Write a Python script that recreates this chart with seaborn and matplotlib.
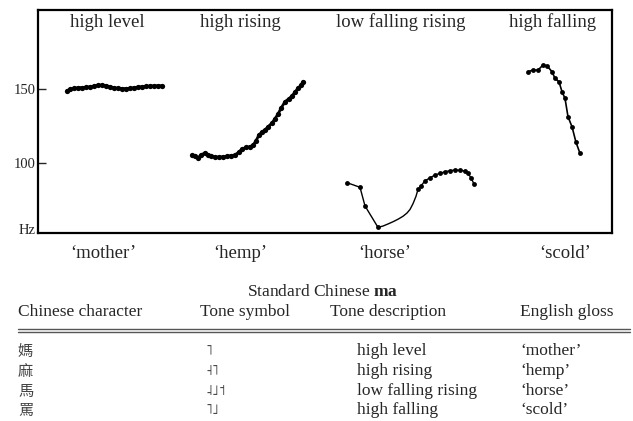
#!/usr/bin/env python3

import matplotlib

matplotlib.use("Agg")
import matplotlib.pyplot as plt
import pandas as pd
import seaborn as sns

# pitch tracks (time in arbitrary units, F0 in Hz)
high_level_t = [67, 70, 74, 78, 82, 86, 90, 94, 98, 102, 106, 110, 114, 118, 122,
                126, 130, 134, 138, 142, 146, 150, 154, 158, 162]
high_level_hz = [148.9, 149.8, 150.5, 150.8, 151.0, 151.2, 151.5, 152.0, 152.5, 152.7,
                 152.3, 151.5, 150.8, 150.5, 150.3, 150.3, 150.5, 150.9, 151.3, 151.6,
                 151.8, 152.0, 152.1, 152.2, 152.2]

high_rising_t = [192, 195, 198, 201, 205, 208, 211, 215, 219, 223, 227, 231, 235, 239,
                 242, 246, 250, 253, 256, 259, 262, 265, 268, 272, 275, 278, 281, 285,
                 289, 292, 295, 298, 301, 303]
high_rising_hz = [105.4, 104.5, 103.4, 105.5, 106.8, 105.5, 104.8, 104.0, 104.0, 104.2,
                  104.5, 105.0, 105.4, 107.5, 109.5, 110.5, 111.0, 112.0, 115.0, 119.0,
                  121.0, 122.3, 124.5, 127.0, 130.0, 133.0, 137.0, 141.4, 143.5, 145.3,
                  148.0, 150.5, 152.5, 155.0]

low_falling_rising_t = [347, 360, 365, 378, 383, 388, 393, 398, 403, 407, 410, 413, 416,
                        418, 421, 425, 430, 435, 440, 445, 450, 455, 460, 465, 468, 471, 474]
low_falling_rising_hz = [86.7, 83.6, 71.0, 56.5, 57.4, 58.8, 60.3, 62.0, 64.0, 66.2, 68.6,
                         72.5, 77.5, 82.2, 84.5, 88.0, 90.0, 91.9, 93.0, 94.1, 94.8, 95.3,
                         95.0, 94.6, 93.0, 90.0, 85.8]
# samples 4..12 are the interpolated stretch drawn without markers
low_falling_rising_marked = [0, 1, 2, 3, 13, 14, 15, 16, 17, 18, 19, 20, 21, 22, 23, 24,
                             25, 26]

high_falling_t = [528, 533, 538, 543, 547, 552, 555, 559, 562, 565, 568, 572, 576, 580]
high_falling_hz = [161.7, 162.8, 162.8, 166.2, 165.7, 161.7, 157.2, 154.9, 148.2, 143.7,
                   131.3, 124.5, 114.0, 106.5]

tone_names = ["high level", "high rising", "low falling rising", "high falling"]
glosses = ["\u2018mother\u2019", "\u2018hemp\u2019", "\u2018horse\u2019", "\u2018scold\u2019"]
characters = ["媽", "麻", "馬", "罵"]
tone_symbols = ["\u02e5", "\u02e7\u02e5", "\u02e8\u02e9\u02e6", "\u02e5\u02e9"]
header = ["Chinese character", "Tone symbol", "Tone description", "English gloss"]
y_ticks = [100, 150]

sns.set_theme(style="white")
plt.rcParams["font.family"] = ["Liberation Serif", "DejaVu Serif"]
plt.rcParams["mathtext.fontset"] = "custom"
plt.rcParams["mathtext.rm"] = "Liberation Serif"
plt.rcParams["mathtext.bf"] = "Liberation Serif:bold"

fig = plt.figure(figsize=(6.33, 4.21), dpi=100)
ax = fig.add_axes([38 / 633, 1 - 233 / 421, (612 - 38) / 633, (233 - 10) / 421])

tracks = [
    (high_level_t, high_level_hz, None, 3.8, 2.0),
    (high_rising_t, high_rising_hz, None, 3.8, 2.0),
    (low_falling_rising_t, low_falling_rising_hz, low_falling_rising_marked, 3.5, 1.0),
    (high_falling_t, high_falling_hz, None, 3.5, 1.2),
]
for t, hz, marked, ms, lw in tracks:
    df = pd.DataFrame({"t": t, "hz": hz})
    sns.lineplot(data=df, x="t", y="hz", ax=ax, color="black", marker="o",
                 markersize=ms, markeredgewidth=0, linewidth=lw, markevery=marked,
                 estimator=None, sort=False)

ax.set_xlim(38, 612)
ax.set_ylim(52.7, 203.4)
ax.set_xlabel("")
ax.set_ylabel("")

ax.set_yticks(y_ticks + [55.4])
ax.set_yticklabels([str(v) for v in y_ticks] + ["Hz"], fontsize=10.5)
ax.tick_params(axis="y", direction="in", length=6, width=1, pad=2, left=True)
ax.yaxis.get_major_ticks()[-1].tick1line.set_visible(False)

ax.set_xticks([103, 240, 385, 565])
ax.set_xticklabels(glosses, fontsize=13.5)
ax.tick_params(axis="x", length=0, pad=9)

for sp in ax.spines.values():
    sp.set_color("black")
    sp.set_linewidth(1.6)

for name, xc in zip(tone_names, [107, 240, 401, 553]):
    ax.text(xc, 0.946, name, transform=ax.get_xaxis_transform(), ha="center",
            va="center", fontsize=13.5)

# table below the plot, drawn in pixel-like coordinates
tab = fig.add_axes([0, 0, 1, (421 - 270) / 421])
tab.set_xlim(0, 633)
tab.set_ylim(421, 270)
tab.axis("off")

tab.text(323, 292, r"Standard Chinese $\mathbf{ma}$", ha="center", va="center",
         fontsize=12.5)
col_x = [18, 200, 330, 520]
for txt, x in zip(header, col_x):
    tab.text(x, 312, txt, ha="left", va="center", fontsize=12.5)
tab.plot([18, 630], [329, 329], color="#555555", linewidth=1.0)
tab.plot([18, 630], [331.5, 331.5], color="#555555", linewidth=1.0)

row_y = [351, 371, 391, 410]
for i, y in enumerate(row_y):
    tab.text(col_x[0], y, characters[i], ha="left", va="center", fontsize=11,
             family=["Noto Sans CJK TC", "DejaVu Sans"], color="#444444")
    tab.text(col_x[1] + 6, y, tone_symbols[i], ha="left", va="center", fontsize=10,
             family=["DejaVu Sans"], color="#444444")
    tab.text(col_x[2] + 27, y, tone_names[i], ha="left", va="center", fontsize=12.5)
    tab.text(col_x[3], y, glosses[i], ha="left", va="center", fontsize=12.5)

fig.savefig("out.png", dpi=100)
